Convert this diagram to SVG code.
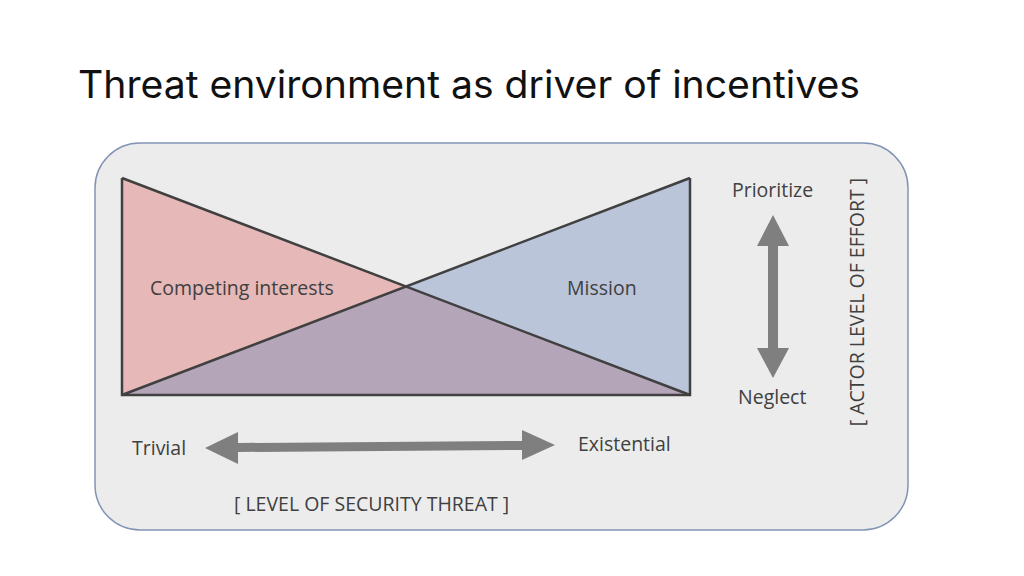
<svg xmlns="http://www.w3.org/2000/svg" width="1024" height="576" viewBox="0 0 1024 576">
<style>
.t{font-family:"Open Sans","Liberation Sans",sans-serif;fill:#404040;font-size:19.5px}
.e{stroke:#404040;stroke-width:2.5;fill:none}
.ar{fill:#7f7f7f}
</style>
<rect width="1024" height="576" fill="#fff"/>
<text x="78" y="98" font-family="Inter,'Liberation Sans',sans-serif" font-size="38" fill="#111" textLength="782" lengthAdjust="spacingAndGlyphs">Threat environment as driver of incentives</text>
<g id="panel"><rect x="95" y="143" width="813" height="387" rx="45" fill="#ececec" stroke="#8194b5" stroke-width="1.5"/></g>
<g id="chart">
<polygon points="122,178 122,395 406,287" fill="#e6b8b7"/>
<polygon points="690,178 690,395 406,287" fill="#bac5da"/>
<polygon points="122,395 690,395 406,287" fill="#b5a5b9"/>
<polyline class="e" points="122,178 122,395 690,395 690,178"/>
<line class="e" x1="122" y1="178" x2="690" y2="395"/>
<line class="e" x1="122" y1="395" x2="690" y2="178"/>
</g>
<g id="labels">
<text class="t" x="150" y="295">Competing interests</text>
<text class="t" x="567" y="295">Mission</text>
<text class="t" x="732" y="197">Prioritize</text>
<text class="t" x="738" y="404">Neglect</text>
<text class="t" x="132" y="455">Trivial</text>
<text class="t" x="578" y="451">Existential</text>
<text class="t" x="234" y="511">[ LEVEL OF SECURITY THREAT ]</text>
<text class="t" transform="translate(864,302) rotate(-90)" text-anchor="middle">[ ACTOR LEVEL OF EFFORT ]</text>
</g>
<g id="connectors">
<polygon class="ar" points="205,448 238,432 238,443 522,441 522,430 555,445 522,460 522,450 238,452 238,464"/>
<polygon class="ar" points="773,215 789,246 778,246 778,348 789,348 773,378 757,348 768,348 768,246 757,246"/>
</g>
</svg>
